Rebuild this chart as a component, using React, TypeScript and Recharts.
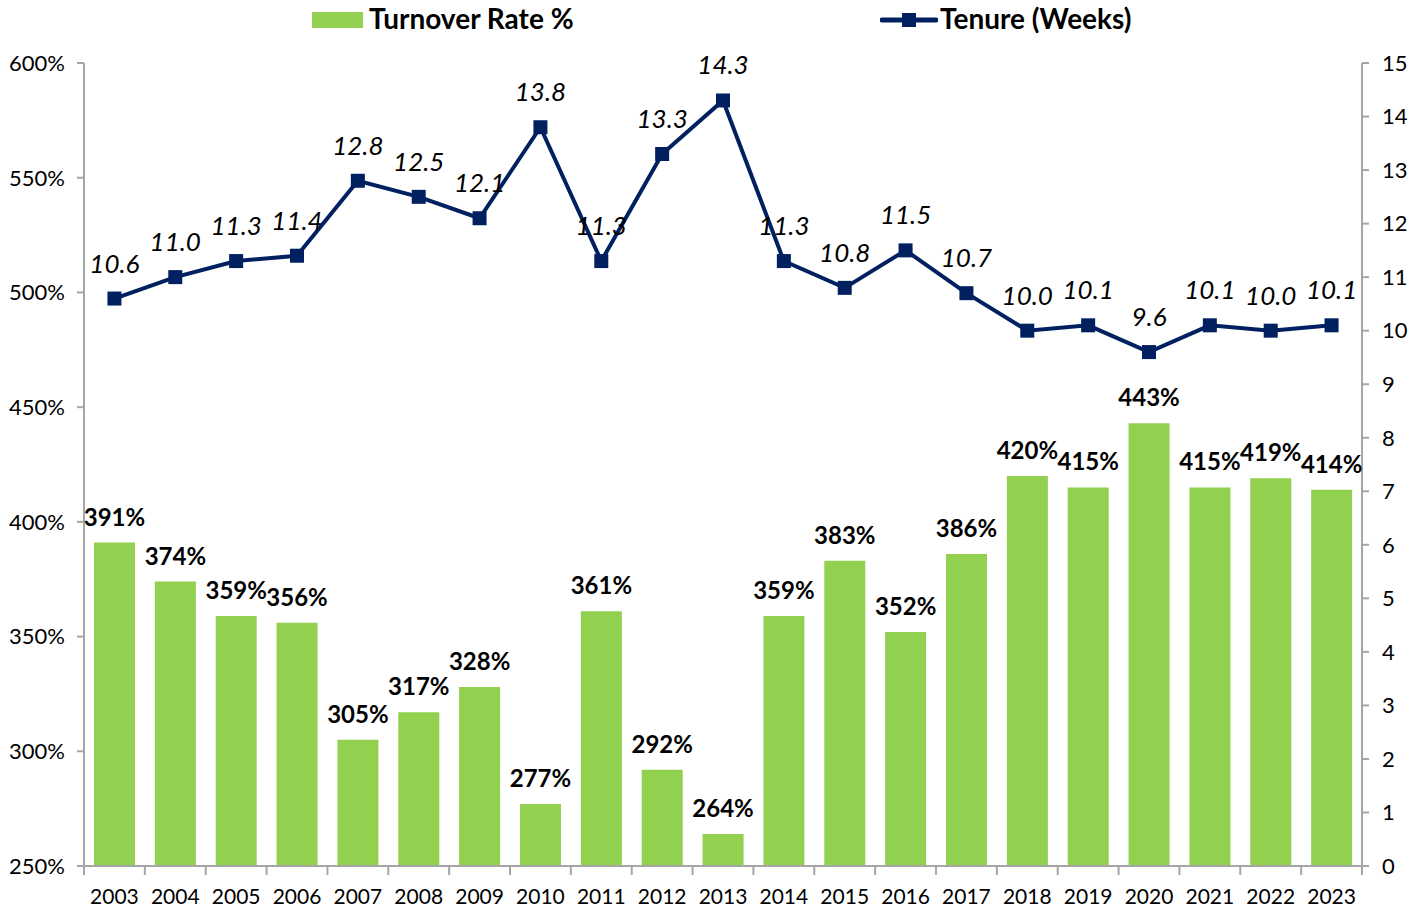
import React from "react";
import {
  ComposedChart,
  Bar,
  Line,
  XAxis,
  YAxis,
  LabelList,
} from "recharts";

const years = [
  "2003", "2004", "2005", "2006", "2007", "2008", "2009", "2010", "2011", "2012", "2013",
  "2014", "2015", "2016", "2017", "2018", "2019", "2020", "2021", "2022", "2023",
];
const turnover = [
  391, 374, 359, 356, 305, 317, 328, 277, 361, 292, 264,
  359, 383, 352, 386, 420, 415, 443, 415, 419, 414,
];
const tenure = [
  10.6, 11.0, 11.3, 11.4, 12.8, 12.5, 12.1, 13.8, 11.3, 13.3, 14.3,
  11.3, 10.8, 11.5, 10.7, 10.0, 10.1, 9.6, 10.1, 10.0, 10.1,
];
const leftTicks = [250, 300, 350, 400, 450, 500, 550, 600];
const rightTicks = [0, 1, 2, 3, 4, 5, 6, 7, 8, 9, 10, 11, 12, 13, 14, 15];

const data = years.map((year, i) => ({
  year,
  turnover: turnover[i],
  tenure: tenure[i],
}));

const GREEN = "#92D050";
const NAVY = "#002060";
const AXIS = "#A6A6A6";
const FONT = "Lato, 'Open Sans', sans-serif";

const W = 1420;
const H = 909;
const LEFT = 84;
const RIGHT = 1362;
const BAND = (RIGHT - LEFT) / years.length;

// Excel-style category ticks: marks sit between the bars, not under them
function YearTick(props: any) {
  const { x, y, payload, index } = props;
  const half = BAND / 2;
  return (
    <g>
      <line x1={x - half} x2={x - half} y1={y - 8} y2={y + 1} stroke={AXIS} strokeWidth={2} />
      {index === years.length - 1 && (
        <line x1={x + half} x2={x + half} y1={y - 8} y2={y + 1} stroke={AXIS} strokeWidth={2} />
      )}
      <text x={x} y={y + 30} textAnchor="middle" fontSize={21} fill="#000" fontFamily={FONT}>
        {payload.value}
      </text>
    </g>
  );
}

function Legend() {
  return (
    <div
      style={{
        position: "absolute",
        top: 0,
        left: 0,
        width: W,
        height: 40,
        fontFamily: FONT,
        fontWeight: 700,
        fontSize: 28,
        color: "#000",
      }}
    >
      <div style={{ position: "absolute", left: 312, top: 12, width: 51, height: 16, background: GREEN }} />
      <div style={{ position: "absolute", left: 369, top: 1, whiteSpace: "nowrap" }}>Turnover Rate %</div>
      <svg style={{ position: "absolute", left: 880, top: 8 }} width={58} height={24}>
        <line x1={2} x2={56} y1={12} y2={12} stroke={NAVY} strokeWidth={5} strokeLinecap="round" />
        <rect x={22} y={5} width={14} height={14} fill={NAVY} />
      </svg>
      <div style={{ position: "absolute", left: 940, top: 1, whiteSpace: "nowrap" }}>Tenure (Weeks)</div>
    </div>
  );
}

export default function App() {
  return (
    <div style={{ position: "absolute", left: 0, top: 0, width: W, height: H, background: "#fff" }}>
      <Legend />
      <ComposedChart
        width={W}
        height={H}
        data={data}
        margin={{ top: 63, right: 0, bottom: 0, left: 0 }}
        style={{ position: "absolute", left: 0, top: 0 }}
      >
        <XAxis
          dataKey="year"
          height={H - 866}
          axisLine={{ stroke: AXIS, strokeWidth: 2 }}
          tickLine={false}
          tick={<YearTick />}
          interval={0}
        />
        <YAxis
          yAxisId="left"
          width={LEFT}
          domain={[250, 600]}
          ticks={leftTicks}
          allowDataOverflow
          tickFormatter={(v: number) => `${v}%`}
          axisLine={{ stroke: AXIS, strokeWidth: 2 }}
          tickLine={{ stroke: AXIS, strokeWidth: 2 }}
          tickSize={7}
          tickMargin={12}
          tick={{ fontSize: 22, fill: "#000", fontFamily: FONT }}
        />
        <YAxis
          yAxisId="right"
          orientation="right"
          width={W - RIGHT}
          domain={[0, 15]}
          ticks={rightTicks}
          axisLine={{ stroke: AXIS, strokeWidth: 2 }}
          tickLine={{ stroke: AXIS, strokeWidth: 2 }}
          tickSize={7}
          tickMargin={13}
          tick={{ fontSize: 22, fill: "#000", fontFamily: FONT }}
        />
        <Bar yAxisId="left" dataKey="turnover" fill={GREEN} barSize={41} isAnimationActive={false}>
          <LabelList
            dataKey="turnover"
            position="top"
            offset={17}
            formatter={(v: any) => `${v}%`}
            style={{ fontSize: 24, fontWeight: 700, fill: "#000", fontFamily: FONT }}
          />
        </Bar>
        <Line
          yAxisId="right"
          dataKey="tenure"
          stroke={NAVY}
          strokeWidth={4}
          isAnimationActive={false}
          dot={(p: any) => (
            <rect key={p.index} x={p.cx - 7} y={p.cy - 7} width={14} height={14} fill={NAVY} />
          )}
        >
          <LabelList
            dataKey="tenure"
            position="top"
            offset={26}
            formatter={(v: any) => Number(v).toFixed(1)}
            style={{ fontSize: 26, fontStyle: "italic", fill: "#000", fontFamily: FONT }}
          />
        </Line>
      </ComposedChart>
    </div>
  );
}
